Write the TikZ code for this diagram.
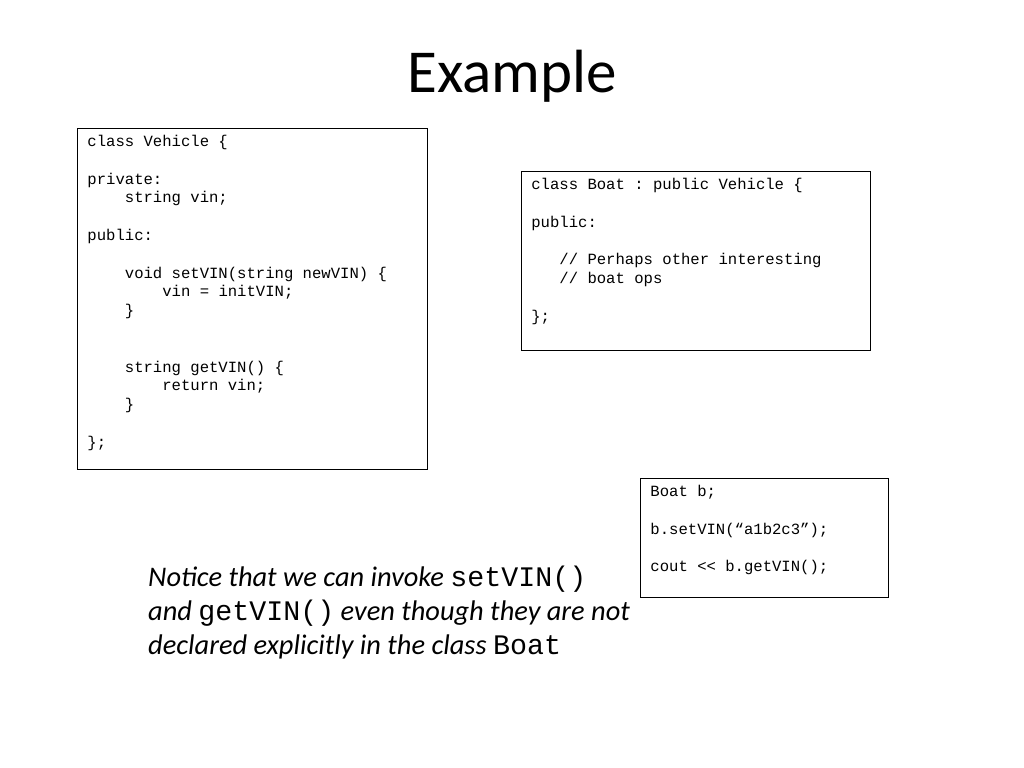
\documentclass[tikz,border=0pt]{standalone}
\usepackage{fontspec}
\setmainfont{Carlito}
\setmonofont{Liberation Mono}
\usetikzlibrary{positioning}

\newcommand{\code}[1]{{\ttfamily\upshape\fontsize{28.3bp}{34bp}\selectfont #1}}
\newcommand{\ind}{\phantom{xxxx}}

\begin{document}
\begin{tikzpicture}[
    x=1bp, y=-1bp,
    font=\normalfont,
    codebox/.style={
		rectangle,
		draw=black,
		line width=0.9bp,
		anchor=north west,
		inner xsep=10bp,
		inner ysep=4.8bp,
		font=\ttfamily\fontsize{15.6bp}{18.8bp}\selectfont,
		fill=white
	},
	heading/.style={
		font=\fontsize{61bp}{70bp}\selectfont
	},
	notetext/.style={
		inner sep=0pt,
		font=\itshape\fontsize{28.4bp}{34bp}\selectfont
	}
  ]
  \useasboundingbox (0,0) rectangle (1024,768);

  \node [heading, anchor=base] (title) at (512,93) {Example};

    % We start by placing the code blocks
  \node [codebox, text depth=318bp] (vehicle) at (77,128)
 {%
 \begin{tabular}[t]{@{}p{329.5bp}@{}}
  class Vehicle \{\\
  \\
  private:\\
  \ind string vin;\\
  \\
  public:\\
  \\
  \ind void setVIN(string newVIN) \{\\
  \ind\ind vin = initVIN;\\
  \ind \}\\
  \\
  \\
  \ind string getVIN() \{\\
  \ind\ind return vin;\\
  \ind \}\\
  \\
  \};
 \end{tabular}
 };

  \node [codebox, text depth=156bp, below right=43bp and 93.5bp of vehicle.north east] (boat)
 {%
 \begin{tabular}[t]{@{}p{329.5bp}@{}}
  class Boat : public Vehicle \{\\
  \\
  public:\\
  \\
  \phantom{xxx}// Perhaps other interesting\\
  \phantom{xxx}// boat ops\\
  \\
  \};
 \end{tabular}
 };

  \node [codebox, text depth=96bp] (boatvar) at (640,478)
 {%
 \begin{tabular}[t]{@{}p{227.5bp}@{}}
  Boat b;\\
  \\
  b.setVIN(“a1b2c3”);\\
  \\
  cout << b.getVIN();
 \end{tabular}
 };

  \node [notetext, anchor=base west] (notice) at (148,586)
 {%
 \begin{tabular}[t]{@{}l@{}}
  Notice that we can invoke \code{setVIN()}\\
  and \code{getVIN()} even though they are not\\
  declared explicitly in the class \code{Boat}
 \end{tabular}
 };

\end{tikzpicture}
\end{document}
